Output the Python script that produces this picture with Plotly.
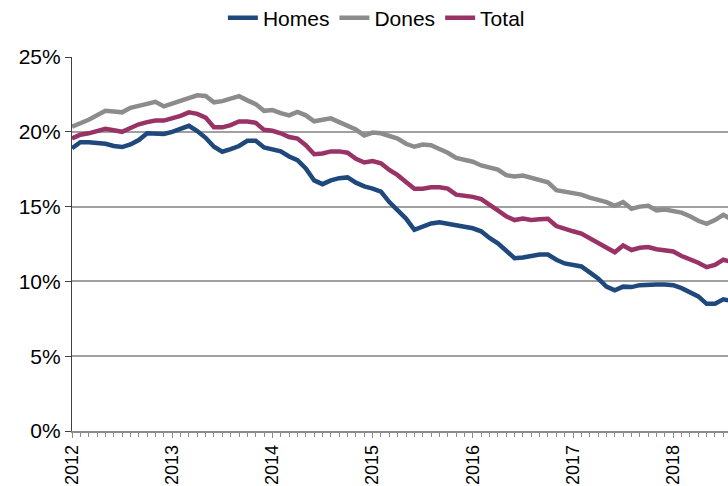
import plotly.graph_objects as go

# Monthly values, Jan 2012 onwards (percent)
homes = [18.9, 19.3, 19.3, 19.25, 19.2, 19.05, 18.98, 19.15, 19.45, 19.9, 19.9, 19.85,
         20.0, 20.2, 20.4, 20.05, 19.6, 19.0, 18.67, 18.84, 19.05, 19.4, 19.4, 18.95,
         18.85, 18.7, 18.35, 18.1, 17.55, 16.75, 16.5, 16.75, 16.9, 16.95, 16.6, 16.35,
         16.2, 16.0, 15.3, 14.75, 14.2, 13.45, 13.7, 13.87, 13.95, 13.85, 13.7, 13.65,
         13.55, 13.35, 12.9, 12.55, 12.05, 11.55, 11.6, 11.73, 11.8, 11.8, 11.45, 11.2,
         11.1, 11.0, 10.6, 10.2, 9.65, 9.4, 9.65, 9.62, 9.75, 9.8, 9.8, 9.8,
         9.75, 9.55, 9.3, 9.0, 8.5, 8.5, 8.8, 8.7]
dones = [20.35, 20.55, 20.8, 21.1, 21.4, 21.35, 21.3, 21.6, 21.75, 21.85, 22.0, 21.7,
         21.9, 22.1, 22.3, 22.44, 22.4, 21.97, 22.05, 22.2, 22.38, 22.1, 21.85, 21.4,
         21.45, 21.25, 21.1, 21.33, 21.1, 20.7, 20.8, 20.9, 20.65, 20.4, 20.15, 19.75,
         19.95, 19.9, 19.75, 19.55, 19.2, 19.0, 19.15, 19.1, 18.85, 18.6, 18.25, 18.1,
         18.0, 17.75, 17.6, 17.47, 17.1, 17.02, 17.08, 16.95, 16.8, 16.62, 16.1, 16.0,
         15.95, 15.8, 15.6, 15.45, 15.3, 15.05, 15.3, 14.85, 15.0, 15.05, 14.75, 14.8,
         14.7, 14.6, 14.35, 14.05, 13.85, 14.1, 14.45, 14.15]
total = [19.55, 19.8, 19.9, 20.05, 20.2, 20.1, 20.0, 20.25, 20.5, 20.65, 20.75, 20.75,
         20.9, 21.07, 21.3, 21.2, 20.95, 20.3, 20.3, 20.45, 20.69, 20.69, 20.6, 20.13,
         20.07, 19.9, 19.65, 19.55, 19.1, 18.5, 18.55, 18.69, 18.69, 18.6, 18.2, 17.95,
         18.05, 17.9, 17.45, 17.1, 16.65, 16.2, 16.2, 16.29, 16.29, 16.2, 15.8, 15.75,
         15.65, 15.5, 15.15, 14.75, 14.35, 14.1, 14.2, 14.1, 14.15, 14.18, 13.7, 13.5,
         13.35, 13.2, 12.9, 12.6, 12.3, 11.95, 12.4, 12.1, 12.25, 12.3, 12.15, 12.1,
         12.0, 11.7, 11.5, 11.25, 10.95, 11.1, 11.45, 11.3]

months = list(range(len(homes)))  # month index from Jan 2012
year_labels = ["2012", "2013", "2014", "2015", "2016", "2017", "2018"]
year_pos = [12 * i for i in range(len(year_labels))]
y_ticks = [0, 5, 10, 15, 20, 25]
y_labels = [f"{v}%" for v in y_ticks]

series = [("Homes", homes, "#1F497D"),
          ("Dones", dones, "#8C8C8C"),
          ("Total", total, "#993366")]

fig = go.Figure()
for name, vals, col in series:
    fig.add_trace(go.Scatter(x=months, y=vals, name=name, mode="lines",
                             line=dict(color=col, width=4.5)))

font = "Liberation Sans, Arial, sans-serif"
fig.update_layout(
    width=728, height=486,
    margin=dict(l=72, r=0, t=57, b=55, autoexpand=False),
    paper_bgcolor="white", plot_bgcolor="white",
    font=dict(family=font, size=21, color="#000000"),
    showlegend=True,
    legend=dict(orientation="h", x=0.464, xanchor="center", y=1.104, yanchor="middle",
                font=dict(size=21), itemwidth=30, tracegroupgap=0,
                bgcolor="rgba(0,0,0,0)"),
    xaxis=dict(range=[0, 78.56], tickmode="array", tickvals=year_pos, ticktext=year_labels,
               tickangle=-90, showgrid=False, zeroline=False, showline=True,
               linecolor="#8C8C8C", linewidth=1.5, ticks="outside", ticklen=5,
               tickcolor="#8C8C8C", automargin=False,
               minor=dict(ticks="outside", dtick=1, ticklen=4, tickcolor="#8C8C8C",
                          showgrid=False),
               tickfont=dict(size=18)),
    yaxis=dict(range=[0, 25], tickmode="array", tickvals=y_ticks, ticktext=y_labels,
               showgrid=True, gridcolor="#A0A0A0", gridwidth=1.5, zeroline=False,
               showline=True, linecolor="#404040", linewidth=1.2, automargin=False,
               ticks="outside", ticklen=6, tickcolor="#404040",
               tickfont=dict(size=21)),
)

fig.write_html("out.html", config={"displayModeBar": False},
               post_script="document.body.style.margin='0';document.body.style.padding='0';")
